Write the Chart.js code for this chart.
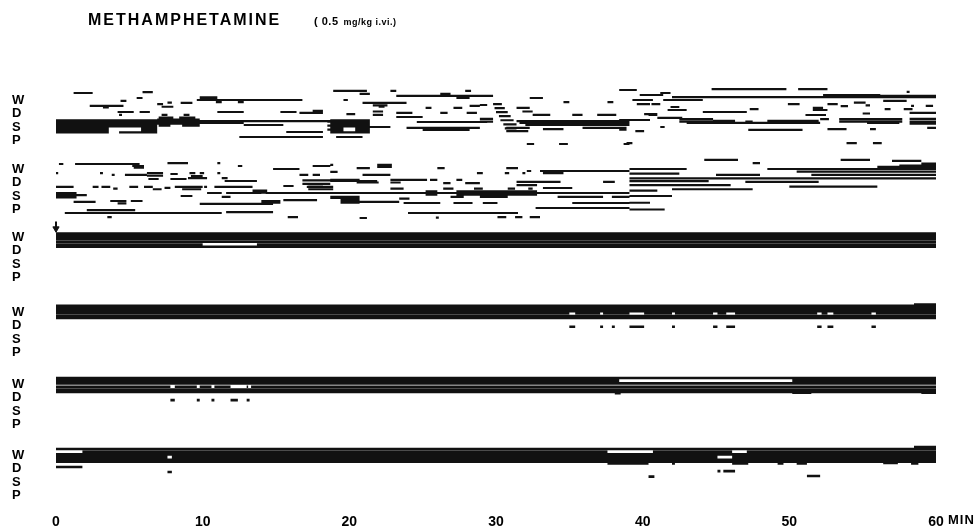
<!DOCTYPE html>
<html><head><meta charset="utf-8">
<script src="https://cdn.jsdelivr.net/npm/chart.js@4.4.1/dist/chart.umd.min.js"></script>
<style>html,body{margin:0;padding:0;background:#fff;}</style>
</head><body>
<canvas id="c" width="979" height="528"></canvas>
<script>
// ---------- text ----------
const TITLE = 'METHAMPHETAMINE';
const DOSE_MAIN = '( 0.5';
const DOSE_UNIT = 'mg/kg i.vi.)';
const STATES = ['W', 'D', 'S', 'P'];
const TIME_TICKS = [0, 10, 20, 30, 40, 50, 60];
const TIME_UNIT = 'MIN';
const INJECTION_TIME = 0;

// ---------- data: [state level (W=0,D=1,S=2,P=3), start min, end min] ----------
const row1 = [
  [-0.52,1.2,2.5],[-0.59,5.9,6.6],[-0.2,9.8,11.0],[-0.1,9.8,11.0],[0.0,9.6,16.8],[-0.15,5.5,5.9],[0.07,4.4,4.8],
  [0.44,2.3,4.6],[0.55,3.2,3.6],[0.3,6.9,7.3],[0.5,7.2,8.0],[0.2,7.6,7.9],[0.22,8.5,9.3],[0.15,10.9,11.3],[0.15,12.4,12.8],
  [0.89,4.2,5.3],[0.89,5.7,6.4],[0.89,11.0,12.8],[0.89,15.3,16.4],[0.96,16.6,18.2],[0.8,17.5,18.2],[1.1,4.3,4.5],
  [1.5,0,6.9],[1.65,0,6.9],[1.8,0,6.9],[1.95,0,6.9],[2.1,0,3.6],[2.25,0,3.6],[2.4,0,3.6],[2.1,5.8,6.9],[2.25,5.8,6.9],[2.4,4.3,6.9],
  [1.3,7.0,8.0],[1.3,8.4,9.5],[1.45,6.9,9.8],[1.6,6.9,9.8],[1.75,6.9,9.8],[1.9,7.0,7.8],[1.9,8.6,9.8],[1.1,7.2,7.6],[1.1,8.7,9.1],
  [1.56,9.8,18.9],[1.7,9.8,12.8],[1.85,12.8,15.5],[2.37,15.7,18.2],[1.6,18.5,19.4],[1.9,18.5,19.4],[2.2,18.5,19.4],
  [2.74,12.5,18.2],[2.74,19.1,19.4],
  [-0.67,18.9,21.2],[-0.45,20.7,21.4],[-0.67,22.8,23.2],[-0.3,23.2,29.8],[-0.45,26.2,26.9],[-0.15,27.3,28.2],[-0.67,27.9,28.3],
  [0.0,19.6,19.9],[0.22,20.9,23.9],[0.4,21.6,22.6],[0.5,22.0,22.4],[0.59,25.2,25.6],[0.96,26.2,26.7],[0.59,27.1,27.7],
  [0.44,28.2,28.9],[0.37,28.9,29.4],[1.04,19.8,20.4],[0.85,21.6,22.3],[1.1,21.6,22.3],[0.96,23.2,24.3],[1.26,23.2,25.0],[0.96,28.0,28.7],
  [1.5,18.7,21.4],[1.65,18.7,21.4],[1.8,18.7,21.4],[1.95,18.7,21.4],[2.1,18.7,19.6],[2.25,18.7,19.6],[2.1,20.4,21.4],[2.25,20.4,21.4],[2.4,18.7,21.4],
  [2.0,21.4,22.8],[2.07,23.9,28.9],[2.22,25.0,28.2],[1.63,24.6,29.4],[1.4,28.9,29.8],[1.6,28.9,29.8],
  [0.3,29.8,30.4],[0.6,29.9,30.6],[0.9,30.0,30.8],[1.2,30.2,31.0],[1.5,30.3,31.2],[1.8,30.5,31.4],[2.1,30.6,31.4],[2.3,30.7,31.6],
  [1.56,31.4,39.1],[1.7,31.6,39.1],[1.85,32.0,39.1],[2.07,30.7,32.3],[2.3,30.9,32.2],[2.15,33.2,34.6],[2.07,35.9,38.6],
  [3.26,32.1,32.6],[3.26,34.3,34.9],[3.26,38.7,39.1],[2.74,19.2,20.9],[0.59,31.4,32.3],[0.85,31.8,32.5],
  [-0.15,32.3,33.2],[0.15,34.6,35.0],[0.15,37.6,38.0],[1.1,32.5,33.7],[1.1,35.2,35.9],[1.1,36.9,38.2],[-0.74,38.6,39.1],
  [-0.74,38.4,39.6],[-0.81,44.7,49.8],[-0.81,50.6,52.6],[-0.6,58.0,58.2],[-0.37,39.8,41.4],[-0.52,41.2,41.9],[-0.22,42.0,60.0],
  [-0.37,52.3,56.2],[-0.3,56.2,60],[0.0,39.3,40.7],[0.0,41.4,44.1],[0.07,56.4,58.0],[0.3,39.6,40.5],[0.3,40.6,41.2],
  [0.3,49.9,50.7],[0.3,52.6,53.3],[0.45,53.5,54.0],[0.2,54.4,55.2],[0.4,55.2,55.5],[0.44,58.3,58.5],[0.44,59.3,59.8],
  [0.52,41.9,42.5],[0.74,41.7,43.0],[0.67,47.3,47.9],[0.59,51.6,52.3],[0.74,51.6,52.6],[0.89,44.1,47.1],[0.67,56.5,56.9],[0.67,57.8,58.4],
  [1.04,40.1,41.0],[1.11,40.4,41.0],[1.11,51.1,52.5],[0.96,58.2,60],[1.0,55.0,55.5],
  [1.48,38.4,40.5],[1.33,41.0,42.7],[1.41,42.5,44.8],[1.6,42.5,44.8],[1.7,43.0,52.1],[1.55,44.8,46.3],[1.6,47.0,47.5],[1.55,48.5,52.0],
  [1.41,53.4,57.7],[1.6,53.4,57.7],[1.7,55.3,57.5],[1.4,58.2,60],[1.6,58.2,60],[1.75,58.2,60],[1.41,52.1,52.7],
  [2.07,38.4,38.9],[2.2,38.4,38.9],[2.3,39.5,40.1],[2.0,41.2,41.5],[2.22,47.2,50.9],[2.15,52.6,53.9],[2.15,55.5,55.9],[2.07,59.4,60],
  [3.19,38.9,39.3],[3.19,53.9,54.6],[3.19,55.7,56.3]
];
const row2 = [
  [-0.37,0.2,0.5],[-0.37,1.3,5.7],[-0.22,5.2,6.0],[-0.1,5.3,6.0],[-0.44,7.6,9.0],[-0.44,11.0,11.2],[-0.22,12.4,12.7],
  [0.0,14.8,16.6],[-0.22,17.5,18.7],[0.3,0.0,0.15],[0.3,3.0,3.2],[0.44,3.8,4.0],[0.44,4.7,6.2],[0.3,6.2,7.3],[0.5,6.2,7.3],[0.74,6.3,7.0],
  [0.37,7.8,8.3],[0.74,7.8,8.9],[0.67,9.0,10.3],[0.52,9.2,10.0],[0.3,9.1,9.5],[0.3,9.8,10.1],[0.3,11.0,11.2],[0.67,11.3,11.7],
  [0.89,11.5,13.7],[0.44,16.6,17.2],[0.44,17.5,18.0],[0.81,18.7,20.7],[0.85,16.8,18.7],[1.1,16.8,18.7],[1.3,17.2,18.2],
  [1.33,0.0,1.2],[1.33,2.5,2.9],[1.33,3.1,3.7],[1.45,3.9,4.2],[1.33,5.0,5.6],[1.33,6.0,6.6],[1.5,6.6,7.2],[1.4,7.4,7.8],
  [1.33,8.1,10.0],[1.5,8.6,9.9],[1.33,10.1,10.3],[1.33,10.8,11.3],[1.33,11.3,13.4],[1.6,13.4,14.4],[1.75,13.4,14.4],
  [1.78,11.6,14.0],[1.78,14.3,20.2],[1.26,15.5,16.2],[1.33,17.1,18.9],[1.5,17.2,18.9],
  [1.93,0.0,2.1],[1.78,0.0,1.4],[2.1,0.0,1.4],[2.0,8.5,9.3],[1.78,10.3,11.3],[2.07,11.3,11.9],
  [2.44,1.2,2.7],[2.37,3.7,4.8],[2.55,4.2,4.8],[2.37,5.1,5.9],[2.59,9.8,14.8],[2.37,14.0,15.3],[2.5,14.0,15.3],[2.3,15.5,17.8],
  [2.15,18.7,20.7],[2.35,19.4,20.7],[2.5,19.4,20.7],[3.26,0.6,5.5],[3.04,2.1,5.4],[3.26,5.5,11.3],[3.19,11.6,14.8],[3.56,3.5,3.8],[3.56,15.8,16.5],
  [-0.3,18.7,18.9],[-0.07,20.5,21.4],[-0.3,21.9,22.9],[-0.15,21.9,22.9],[-0.07,26.0,26.5],[-0.07,30.7,31.5],[0.22,18.7,19.2],
  [0.44,20.9,22.8],[0.3,28.7,29.1],[0.3,30.6,30.9],[0.3,31.8,32.0],[0.15,32.1,32.4],[0.15,33.0,39.1],[0.3,33.2,34.6],
  [0.89,18.7,21.9],[1.0,20.5,22.0],[0.81,22.8,25.3],[1.0,22.8,23.5],[0.81,25.5,26.0],[1.04,26.4,26.9],[0.81,27.3,27.7],[1.04,27.9,28.9],
  [0.96,31.4,34.4],[1.19,31.4,32.8],[0.96,37.3,38.1],[1.45,22.8,23.7],[1.45,26.4,27.1],[1.45,28.5,29.1],[1.45,30.8,31.3],[1.45,32.2,32.5],
  [1.41,33.2,35.2],[1.78,18.7,39.1],[1.65,25.2,26.0],[1.9,25.2,26.0],[1.65,27.3,32.8],[1.9,27.3,32.8],
  [2.07,18.7,20.7],[2.3,19.4,20.7],[2.44,19.4,20.7],[2.44,20.7,23.4],[2.2,23.4,24.1],[2.52,23.7,26.2],[2.52,27.1,28.4],[2.07,26.9,27.8],
  [2.07,28.9,30.8],[2.52,29.1,30.1],[2.07,34.2,37.3],[2.07,37.9,39.1],[2.52,35.2,39.1],[2.89,32.7,39.1],[3.26,24.0,31.5],
  [3.63,20.7,21.2],[3.6,25.9,26.1],[3.56,30.1,30.7],[3.56,31.3,31.8],[3.56,32.3,33.0],
  [-0.67,44.2,46.5],[-0.67,53.5,55.5],[-0.6,57.0,59.0],[-0.44,47.5,48.0],[-0.4,59.0,60],[-0.15,56.0,60],[-0.25,57.5,60],
  [0.0,39.1,43.0],[0.0,48.5,60],[0.2,50.5,60],[0.35,39.1,42.5],[0.44,45.0,48.0],[0.44,51.5,60],[0.7,39.1,60],
  [0.9,39.1,44.5],[0.95,47.0,52.0],[1.2,39.1,46.0],[1.3,50.0,56.0],[1.6,39.1,41.0],[1.5,42.0,47.5],[2.0,39.1,42.0],[2.5,39.1,40.5],[3.0,39.1,41.5]
];
const row3 = [
  [-0.25,0,60],[-0.05,0,60],[0.15,0,60],[0.35,0,60],[0.55,0,10.0],[0.55,13.7,60],[0.72,0,60]
];
const row4 = [
  [-0.45,0,60],[-0.25,0,60],[-0.05,0,60],
  [0.1,0,35.0],[0.1,35.4,37.1],[0.1,37.3,39.1],[0.1,40.1,42.0],[0.1,42.2,44.8],[0.1,45.1,45.7],[0.1,46.3,51.9],[0.1,52.2,52.6],[0.1,53.0,55.6],[0.1,55.9,60],
  [0.3,0,60],[0.45,0,60],[-0.55,58.5,60],
  [1.1,35.0,35.4],[1.1,37.1,37.3],[1.1,37.9,38.1],[1.1,39.1,40.1],[1.1,42.0,42.2],[1.1,44.8,45.1],[1.1,45.7,46.3],[1.1,51.9,52.2],[1.1,52.6,53.0],[1.1,55.6,55.9]
];
const row5 = [
  [-0.45,0,60],[-0.25,0,38.4],[-0.25,50.2,60],[-0.05,0,60],
  [0.2,0,7.8],[0.2,8.1,9.6],[0.2,9.8,10.6],[0.2,10.8,11.9],[0.2,13.0,13.1],[0.2,13.3,60],
  [0.4,0,60],[0.58,0,60],
  [1.19,7.8,8.1],[1.19,9.6,9.8],[1.19,10.6,10.8],[1.19,11.9,12.4],[1.19,13.0,13.2],
  [0.68,38.1,38.5],[0.65,50.2,51.5],[0.65,59.0,60]
];
const row6 = [
  [-0.45,0,60],[-0.25,1.8,37.6],[-0.25,40.7,46.1],[-0.25,47.1,60],[-0.05,0,60],
  [0.15,0,7.6],[0.15,7.9,45.1],[0.15,46.1,60],[0.35,0,60],[0.5,0,60],[-0.6,58.5,60],
  [0.89,0.0,1.8],[1.25,7.6,7.9],[0.62,37.6,40.4],[0.62,42.0,42.2],[0.62,46.1,47.2],[0.62,49.2,49.6],[0.62,50.5,51.2],
  [0.58,56.4,57.4],[0.62,58.3,58.8],[1.19,45.1,45.3],[1.19,45.5,46.3],[1.6,40.4,40.8],[1.55,51.2,52.1]
];

// ---------- layout (not data) ----------
const ROW_BASE = [0, 5.11, 10.15, 15.7, 21.04, 26.3];
const ROWS = [row1, row2, row3, row4, row5, row6];
const INK = '#111';

function toPoints(segs, base) {
  const pts = [];
  for (const [lv, a, b] of segs) {
    pts.push({x: a, y: base + lv}, {x: b, y: base + lv}, {x: b, y: null});
  }
  return pts;
}

const datasets = ROWS.map((segs, r) => ({
  data: toPoints(segs, ROW_BASE[r]),
  showLine: true,
  borderColor: INK,
  borderWidth: r < 2 ? 2.2 : 2.6,
  borderCapStyle: 'butt',
  pointRadius: 0,
  spanGaps: false,
  tension: 0
}));
// injection arrow
datasets.push({
  data: [{x: INJECTION_TIME, y: ROW_BASE[2] - 1.15}, {x: INJECTION_TIME, y: ROW_BASE[2] - 0.75}],
  showLine: true, borderColor: INK, borderWidth: 2, pointRadius: 0, clip: false
});
datasets.push({
  data: [{x: INJECTION_TIME, y: ROW_BASE[2] - 0.62}],
  showLine: false, pointStyle: 'triangle', rotation: 180, pointRadius: 3.6,
  backgroundColor: INK, borderColor: INK, borderWidth: 1, clip: false
});

const textPlugin = {
  id: 'texts',
  afterDraw(chart) {
    const ctx = chart.ctx;
    ctx.save();
    ctx.fillStyle = '#000';
    ctx.textBaseline = 'alphabetic';
    ctx.textAlign = 'left';
    ctx.font = 'bold 16px "Liberation Sans", Arial, sans-serif';
    try { ctx.letterSpacing = '2px'; } catch (e) {}
    ctx.fillText(TITLE, 88, 25);
    try { ctx.letterSpacing = '0.5px'; } catch (e) {}
    ctx.font = 'bold 11px "Liberation Sans", Arial, sans-serif';
    ctx.fillText(DOSE_MAIN, 314, 25);
    const w = ctx.measureText(DOSE_MAIN).width;
    ctx.font = 'bold 9px "Liberation Sans", Arial, sans-serif';
    ctx.fillText(DOSE_UNIT, 314 + w + 5, 25);
    const xs = chart.scales.x;
    ctx.font = 'bold 13px "Liberation Sans", Arial, sans-serif';
    try { ctx.letterSpacing = '1px'; } catch (e) {}
    ctx.fillText(TIME_UNIT, xs.getPixelForValue(TIME_TICKS[TIME_TICKS.length - 1]) + 12, 524);
    ctx.restore();
  }
};

new Chart(document.getElementById('c'), {
  type: 'scatter',
  data: {datasets},
  plugins: [textPlugin],
  options: {
    responsive: false,
    animation: false,
    events: [],
    layout: {padding: {top: 86.5, left: 12, right: 43, bottom: 0}},
    plugins: {legend: {display: false}, tooltip: {enabled: false}, title: {display: false}},
    scales: {
      x: {
        type: 'linear', min: 0, max: 60,
        grid: {display: false, drawTicks: false}, border: {display: false},
        afterBuildTicks: s => { s.ticks = TIME_TICKS.map(v => ({value: v})); },
        afterFit: s => { s.height = 23; },
        ticks: {
          autoSkip: false, maxRotation: 0, padding: 9, color: '#000',
          font: {family: '"Liberation Sans", Arial, sans-serif', size: 14, weight: 'bold'},
          callback: v => String(v)
        }
      },
      y: {
        type: 'linear', min: -1, max: 30, reverse: true,
        grid: {display: false, drawTicks: false}, border: {display: false},
        afterBuildTicks: s => {
          const t = [];
          ROW_BASE.forEach(b => STATES.forEach((_, i) => t.push({value: b + i})));
          s.ticks = t;
        },
        afterFit: s => { s.width = 44; },
        ticks: {
          autoSkip: false, padding: 0, crossAlign: 'far', color: '#000',
          font: {family: '"Liberation Sans", Arial, sans-serif', size: 13, weight: 'bold'},
          callback: (v, i) => STATES[i % STATES.length]
        }
      }
    }
  }
});
</script>
</body></html>
